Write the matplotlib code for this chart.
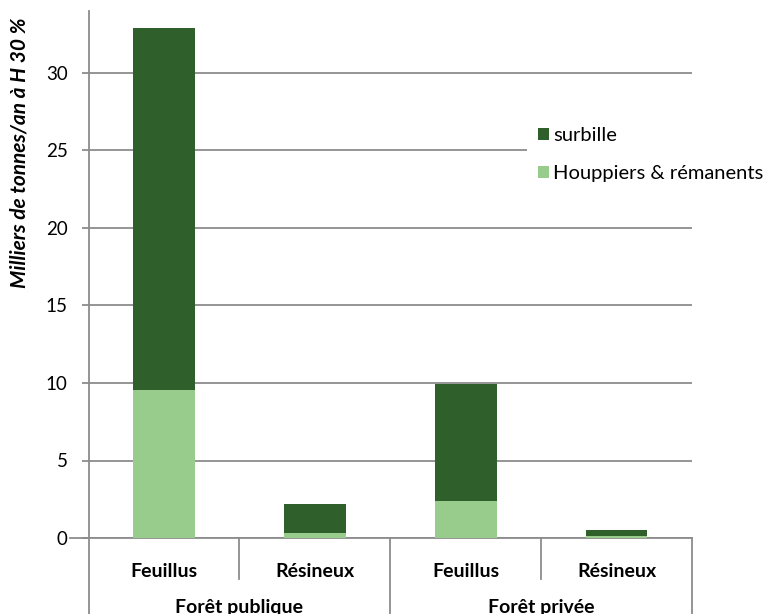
import matplotlib
matplotlib.use("Agg")
import matplotlib.pyplot as plt
from matplotlib.patches import Patch
from matplotlib.lines import Line2D

plt.rcParams['font.family'] = ['Lato', 'DejaVu Sans']

# Data (thousand tonnes / year at 30 % moisture)
categories = ["Feuillus", "Résineux", "Feuillus", "Résineux"]
groups = ["Forêt publique", "Forêt privée"]
houppiers = [9.55, 0.35, 2.4, 0.1]
surbille = [23.35, 1.85, 7.55, 0.4]

series_names = ["surbille", "Houppiers & rémanents"]
color_dark = "#2F5F2A"
color_light = "#97CC8C"
grid_color = "#8C8C8C"

W, H = 764, 614
fig = plt.figure(figsize=(W / 100, H / 100), dpi=100)

# plot area in pixel terms
x0, x1 = 88.5, 692
y_zero, y_top = 538, 11
ax = fig.add_axes([x0 / W, 1 - y_zero / H, (x1 - x0) / W, (y_zero - y_top) / H])

xs = list(range(len(categories)))
ax.bar(xs, houppiers, width=0.41, color=color_light, zorder=3)
ax.bar(xs, surbille, width=0.41, bottom=houppiers, color=color_dark, zorder=3)

ax.set_xlim(-0.5, len(categories) - 0.5)
ax.set_ylim(0, 34)
ax.set_yticks(range(0, 31, 5))
ax.yaxis.grid(True, color=grid_color, linewidth=1.3, zorder=0)
ax.set_axisbelow(True)

for side in ["top", "right", "bottom", "left"]:
    ax.spines[side].set_visible(False)

ax.tick_params(axis="y", length=5, width=1.3, color=grid_color, pad=10,
               labelsize=13.5, labelcolor="#000000")

# category labels under each bar
ax.set_xticks(xs)
ax.set_xticklabels(categories, fontsize=14, fontweight="bold")
ax.tick_params(axis="x", length=0, pad=18)

# group labels
trans = ax.get_xaxis_transform()
span = y_zero - y_top
def yfrac(py):
    return (y_zero - py) / span

for i, g in enumerate(groups):
    ax.text(2 * i + 0.5, yfrac(607), g, transform=trans, ha="center", va="center",
            fontsize=14, fontweight="bold", clip_on=False)

# axis lines and category dividers
line_kw = dict(color=grid_color, linewidth=1.3, clip_on=False, transform=trans)
ax.add_line(Line2D([-0.5, -0.5], [yfrac(H + 2), 1.0], **line_kw))
ax.add_line(Line2D([-0.62, 3.5], [0, 0], **line_kw))
for xd in [0.5, 2.5]:
    ax.add_line(Line2D([xd, xd], [0, yfrac(579)], **line_kw))
for xd in [1.5, 3.5]:
    ax.add_line(Line2D([xd, xd], [0, yfrac(H + 2)], **line_kw))

# y-axis title
fig.text(20 / W, 1 - 153 / H, "Milliers de tonnes/an à H 30 %", rotation=90,
         ha="center", va="center", fontsize=15, fontweight="bold", style="italic")

# legend
handles = [Patch(facecolor=color_dark), Patch(facecolor=color_light)]
leg = ax.legend(handles, series_names, loc="upper left",
                bbox_to_anchor=(527 / W, 1 - 116 / H), bbox_transform=fig.transFigure,
                frameon=True, fancybox=False, framealpha=1, edgecolor="none",
                facecolor="white", fontsize=14.5, handlelength=0.55, handleheight=0.55,
                handletextpad=0.2, labelspacing=1.05, borderpad=0.55, borderaxespad=0)
leg.set_zorder(5)

fig.savefig("out.png", dpi=100, facecolor="white")
